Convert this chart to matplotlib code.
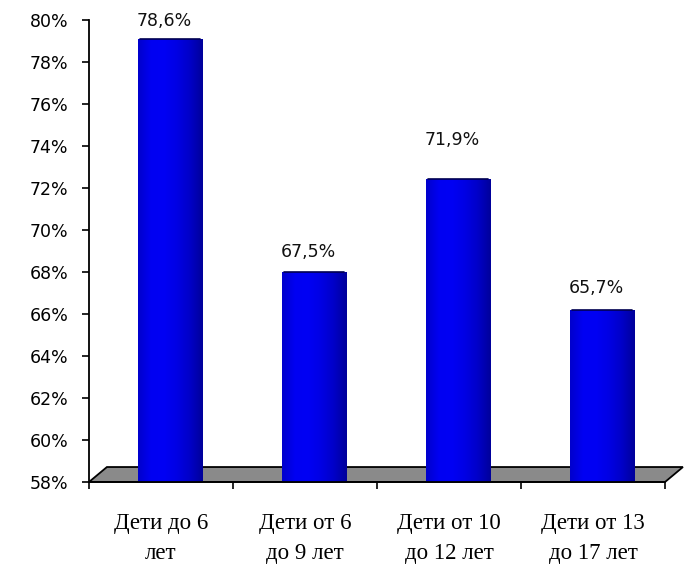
import numpy as np
import matplotlib.pyplot as plt
from matplotlib.patches import Polygon, Rectangle
from matplotlib.colors import LinearSegmentedColormap

categories = ["Дети до 6\nлет", "Дети от 6\nдо 9 лет", "Дети от 10\nдо 12 лет", "Дети от 13\nдо 17 лет"]
values = [78.6, 67.5, 71.9, 65.7]
value_labels = ["78,6%", "67,5%", "71,9%", "65,7%"]
y_ticks = list(range(58, 81, 2))

# сдвиг подписей над столбцами (в пунктах)
label_offsets = [6, 8, 22, 9]

ymin, ymax = 58, 80
depth_x, depth_y = 0.124, 0.71   # глубина "пола" (псевдо-3D)
bar_w = 0.45

fig = plt.figure(figsize=(6.85, 5.65), dpi=100)
ax = fig.add_axes([0.130, 0.147, 0.867, 0.818])

# серый пол
floor = Polygon(
    [(-0.5, ymin), (3.5, ymin), (3.5 + depth_x, ymin + depth_y), (-0.5 + depth_x, ymin + depth_y)],
    closed=True, facecolor="#8a8a8a", edgecolor="black", lw=1.3, zorder=1, clip_on=False
)
ax.add_patch(floor)

# цилиндрические столбцы - градиент
cyl = LinearSegmentedColormap.from_list(
    "cyl", ["#0000cc", "#0000f2", "#0000f4", "#0000e4", "#0000c8", "#00009a"]
)
grad = np.linspace(0, 1, 256).reshape(1, -1)

for i, v in enumerate(values):
    x0 = i + depth_x / 2 - bar_w / 2
    top = v + depth_y * 0.7
    rect = Rectangle((x0, ymin), bar_w, top - ymin, facecolor="none", edgecolor="none", zorder=2)
    ax.add_patch(rect)
    im = ax.imshow(grad, cmap=cyl, extent=[x0, x0 + bar_w, ymin, top], aspect="auto", zorder=2)
    im.set_clip_path(rect)
    ax.plot([x0 + 0.02, x0 + bar_w - 0.02], [top, top], color="#000050", lw=1.2, zorder=3,
            solid_capstyle="round")
    ax.annotate(value_labels[i], (i + depth_x / 2, top), xytext=(-4, label_offsets[i]),
                textcoords="offset points", ha="center", va="bottom",
                fontsize=12.5, family="DejaVu Sans", color="#111111")

ax.set_xlim(-0.5, 3.5 + depth_x)
ax.set_ylim(ymin, ymax)

ax.set_yticks(y_ticks)
ax.set_yticklabels([f"{t}%" for t in y_ticks], family="DejaVu Sans", fontsize=12.5)
ax.tick_params(axis="y", length=5, width=1.2, pad=10, direction="out")

ax.set_xticks([-0.5, 0.5, 1.5, 2.5, 3.5])
ax.set_xticklabels([])
ax.tick_params(axis="x", which="major", length=5, width=1.2, direction="out")
ax.set_xticks(range(len(categories)), minor=True)
ax.set_xticklabels(categories, minor=True, family="Liberation Serif", fontsize=16.5, linespacing=1.6)
ax.tick_params(axis="x", which="minor", length=0, pad=22)

for s in ["top", "right"]:
    ax.spines[s].set_visible(False)
ax.spines["left"].set_linewidth(1.3)
ax.spines["bottom"].set_linewidth(1.3)
ax.spines["bottom"].set_bounds(-0.5, 3.5)

plt.savefig("out.png", dpi=100)
plt.close()
